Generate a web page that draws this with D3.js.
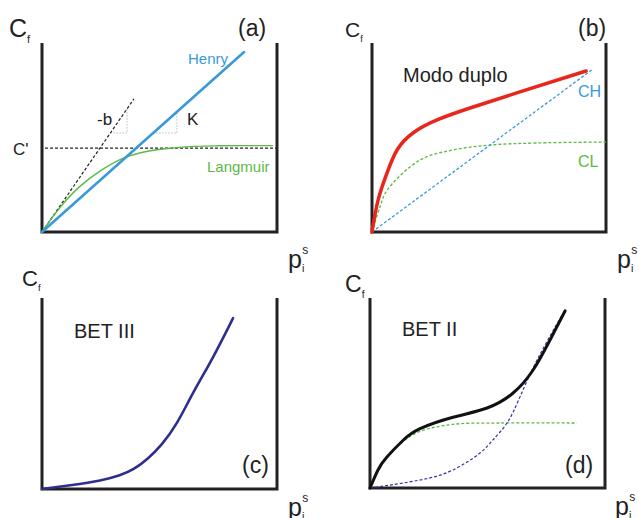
<!DOCTYPE html>
<html>
<head>
<meta charset="utf-8">
<script src="https://cdn.jsdelivr.net/npm/d3@7"></script>
<style>
  body { margin: 0; background: #fff; }
  svg text { font-family: "Liberation Sans", Arial, sans-serif; }
</style>
</head>
<body>
<svg width="639" height="518"></svg>
<script>
// data (units 0..10 on both axes of each panel)
var henry = [[0, 0], [8.6, 9.52]];
var slopeB = [[0, 0], [3.91, 7.04]];
var cPrime = [[0.13, 4.44], [10, 4.44]];
var langmuir = [[0, 0], [0.8, 1.35], [1.6, 2.4], [2.5, 3.25], [3.49, 3.92], [4.5, 4.27], [5.5, 4.44], [6.5, 4.53], [7.5, 4.56], [9.8, 4.57]];
var triB = [[2.91, 5.24], [3.62, 5.24], [3.62, 6.52]];
var triK = [[4.73, 5.24], [5.74, 5.24], [5.74, 6.36]];

var modoDuplo = [[0, 0], [0.26, 1.69], [0.64, 3.12], [1.07, 4.34], [1.75, 5.24], [2.78, 5.93], [4.19, 6.56], [6.32, 7.41], [9.15, 8.52]];
var ch = [[0, 0], [9.44, 8.62]];
var cl = [[0, 0], [0.34, 1.32], [0.64, 2.2], [2.05, 3.81], [3.46, 4.34], [5.04, 4.6], [7.05, 4.71], [10, 4.76]];

var bet3 = [[0, 0], [1.2, 0.2], [2.47, 0.45], [3.3, 0.72], [3.9, 1.05], [4.5, 1.6], [5.1, 2.35], [5.74, 3.46], [6.43, 5.03], [7.28, 6.91], [8.13, 8.95]];

var bet2 = [[0, 0], [0.34, 0.95], [0.72, 1.63], [1.4, 2.5], [2.13, 3.12], [3.53, 3.72], [4.98, 4.21], [6.09, 5.0], [6.94, 6.21], [7.66, 7.79], [8.3, 9.32]];
var bet2L = [[0, 0], [0.34, 0.95], [0.72, 1.63], [1.4, 2.45], [2.13, 2.98], [3.53, 3.35], [5.5, 3.42], [8.8, 3.42]];
var bet2B = [[0, 0], [2.13, 0.42], [3.53, 0.95], [4.68, 1.84], [5.23, 2.53], [5.83, 3.42], [6.38, 4.79], [7.11, 6.74], [8.17, 9.1]];

var svg = d3.select("svg");

// panel frames: origin and size in px, plus label placement
var panels = [
  {id: "a", x0: 42, y0: 232, w: 235, h: 189, cf: [9, 37, 25], ps: [288, 268]},
  {id: "b", x0: 372, y0: 232, w: 234, h: 189, cf: [345, 37, 21], ps: [617, 268]},
  {id: "c", x0: 42, y0: 489, w: 235, h: 191, cf: [22, 286, 22], ps: [288, 516]},
  {id: "d", x0: 370, y0: 488, w: 235, h: 190, cf: [345, 292, 23], ps: [615, 515]}
];

var P = {};
panels.forEach(function(p) {
  var x = d3.scaleLinear().domain([0, 10]).range([p.x0, p.x0 + p.w]);
  var y = d3.scaleLinear().domain([0, 10]).range([p.y0, p.y0 - p.h]);
  var g = svg.append("g").attr("class", "panel-" + p.id);
  g.append("path")
    .attr("d", "M" + x(0) + "," + y(10) + "L" + x(0) + "," + y(0) + "L" + x(10) + "," + y(0) + "L" + x(10) + "," + y(10))
    .attr("fill", "none").attr("stroke", "#222").attr("stroke-width", 3);
  // C_f label
  var cf = g.append("text").attr("x", p.cf[0]).attr("y", p.cf[1])
    .attr("font-size", p.cf[2]).attr("fill", "#222");
  cf.append("tspan").text("C");
  cf.append("tspan").attr("font-size", p.cf[2] * 0.44).attr("dy", p.cf[2] * 0.24).text("f");
  // p_i^s label
  var pl = g.append("text").attr("x", p.ps[0]).attr("y", p.ps[1])
    .attr("font-size", 25).attr("fill", "#222");
  pl.append("tspan").text("p");
  pl.append("tspan").attr("font-size", 11).attr("dy", 4).text("i");
  pl.append("tspan").attr("font-size", 12).attr("dx", -2).attr("dy", -18).text("s");
  P[p.id] = {g: g, x: x, y: y};
});

function draw(id, data, color, width, dash, curve) {
  var p = P[id];
  var line = d3.line()
    .x(function(d) { return p.x(d[0]); })
    .y(function(d) { return p.y(d[1]); })
    .curve(curve || d3.curveLinear);
  p.g.append("path").datum(data)
    .attr("d", line)
    .attr("fill", "none")
    .attr("stroke", color)
    .attr("stroke-width", width)
    .attr("stroke-dasharray", dash || null)
    .attr("stroke-linecap", dash ? "butt" : "round");
}

function label(id, txt, x, y, size, color) {
  P[id].g.append("text").attr("x", x).attr("y", y)
    .attr("font-size", size).attr("fill", color).text(txt);
}

var cr = d3.curveCatmullRom.alpha(0.5);
var nat = d3.curveNatural;

// (a)
draw("a", triB, "#aaa", 0.8, "1.5,1.5");
draw("a", triK, "#aaa", 0.8, "1.5,1.5");
draw("a", slopeB, "#222", 1.2, "3,2");
draw("a", cPrime, "#222", 1.4, "3,2");
draw("a", langmuir, "#5cb946", 1.4, null, cr);
draw("a", henry, "#3a9ad9", 2.6);
label("a", "(a)", 238, 36, 23, "#222");
label("a", "Henry", 188, 64, 15, "#3a9ad9");
label("a", "-b", 97, 125, 17, "#222");
label("a", "K", 187, 125, 17, "#222");
label("a", "C'", 13, 155, 17, "#222");
label("a", "Langmuir", 207, 172, 15, "#5cb946");

// (b)
draw("b", cl, "#5cb946", 1.3, "3,2", cr);
draw("b", ch, "#3a9ad9", 1.3, "3,2");
draw("b", modoDuplo, "#e8261c", 3.5, null, nat);
label("b", "(b)", 578, 36, 23, "#222");
label("b", "Modo duplo", 403, 82, 20, "#222");
label("b", "CH", 578, 97, 16, "#3a9ad9");
label("b", "CL", 578, 167, 16, "#5cb946");

// (c)
draw("c", bet3, "#2e2e8f", 2.6, null, nat);
label("c", "BET III", 74, 338, 20, "#222");
label("c", "(c)", 242, 473, 23, "#222");

// (d)
draw("d", bet2L, "#5cb946", 1.3, "3,2", cr);
draw("d", bet2B, "#3434a8", 1.2, "3,2", nat);
draw("d", bet2, "#111", 3, null, nat);
label("d", "BET II", 402, 336, 20, "#222");
label("d", "(d)", 565, 473, 23, "#222");
</script>
</body>
</html>
